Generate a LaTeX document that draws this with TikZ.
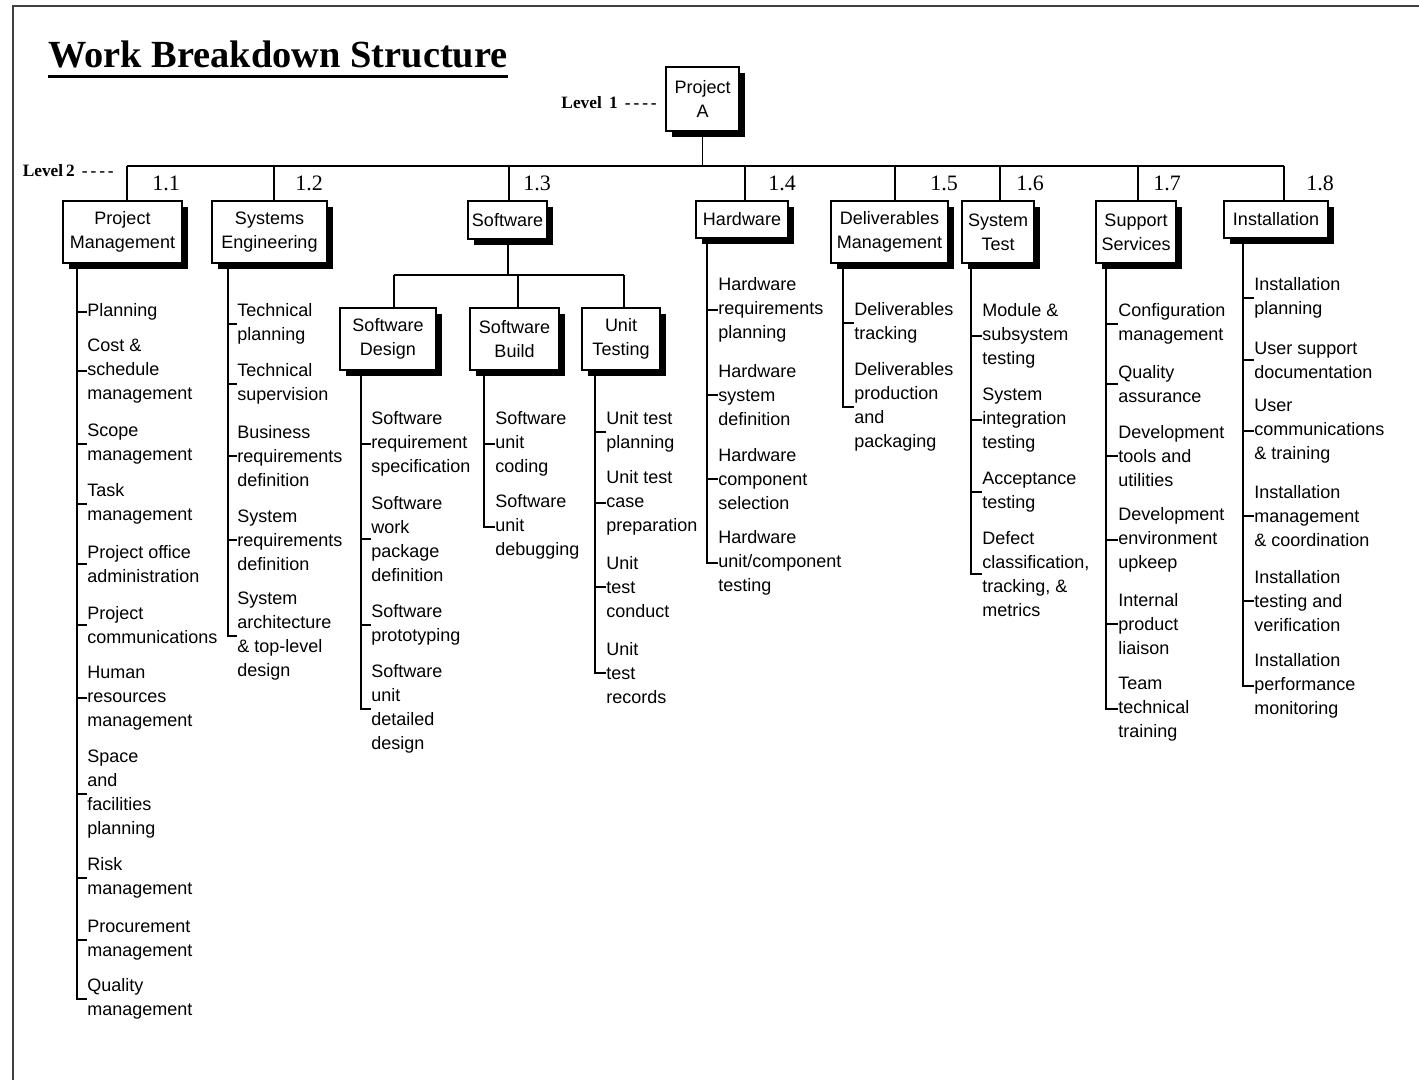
\documentclass[tikz,border=0pt]{standalone}
\usepackage{fontspec}
\setmainfont{Liberation Sans}
\newfontfamily\serifface{Liberation Serif}
\usetikzlibrary{shadows}
\newcommand\leaffont{\fontsize{13.5pt}{18pt}\selectfont}
\newcommand\numfont{\serifface\fontsize{16.5pt}{18pt}\selectfont}
\newcommand\lvlfont{\serifface\bfseries\fontsize{13pt}{15pt}\selectfont}
\begin{document}
\begin{tikzpicture}[x=0.75pt,y=-0.75pt,
  wbox/.style={draw, line width=1.3pt, fill=white, align=center, inner sep=0pt, font=\leaffont,
    drop shadow={shadow xshift=4.8pt, shadow yshift=-4.8pt, fill=black, opacity=1}},
  leaf/.style={anchor=west, inner sep=0pt, align=left, font=\leaffont},
  link/.style={line width=1.3pt},
  num/.style={font=\numfont, inner sep=0pt},
  lvl/.style={font=\lvlfont, inner sep=0pt, anchor=east}]
\useasboundingbox (0,0) rectangle (1419,1079);
\fill[white] (0,0) rectangle (1419,1079);
% frame
\draw[line width=1.6pt, black!75] (13,1085) -- (13,6) -- (1425,6);
% title
\node[inner sep=0pt, anchor=base west, font=\serifface\bfseries\fontsize{28.8pt}{30pt}\selectfont] (title) at (48,67) {Work Breakdown Structure};
\draw[line width=2.3pt] ([yshift=-7pt]title.base west) -- ([yshift=-7pt]title.base east);
% level labels
\node[lvl] (lv1) at (657,103) {Level\, 1 \,-\,-\,-\,-};
\node[lvl] (lv2) at (114,171) {Level\,2 \,-\,-\,-\,-};
% bar coordinates
\coordinate (b1) at (127,166);
\coordinate (b2) at (274,166);
\coordinate (b3) at (509,166);
\coordinate (b4) at (745,166);
\coordinate (b5) at (895,166);
\coordinate (b6) at (1000,166);
\coordinate (b7) at (1138,166);
\coordinate (b8) at (1284,166);
\coordinate (s0) at (508,275);
\coordinate (c1) at (394,275);
\coordinate (c2) at (518,275);
\coordinate (c3) at (624,275);
% list tops
\coordinate (pmv) at (77,263);
\coordinate (sev) at (228,263);
\coordinate (sdv) at (361,370);
\coordinate (sbv) at (484,370);
\coordinate (utv) at (595,370);
\coordinate (hwv) at (707,238);
\coordinate (dmv) at (843,263);
\coordinate (stv) at (971,263);
\coordinate (ssv) at (1106,263);
\coordinate (insv) at (1243,238);

% ---------- leaves ----------
\node[leaf] (pm1) at (87,312) {Planning};
\node[leaf] (pm2) at (87,371) {Cost \&\\schedule\\management};
\node[leaf] (pm3) at (87,444) {Scope\\management};
\node[leaf] (pm4) at (87,504) {Task\\management};
\node[leaf] (pm5) at (87,564) {Project office\\administration};
\node[leaf] (pm6) at (87,625) {Project\\communications};
\node[leaf] (pm7) at (87,698) {Human\\resources\\management};
\node[leaf] (pm8) at (87,794) {Space\\and\\facilities\\planning};
\node[leaf] (pm9) at (87,878) {Risk\\management};
\node[leaf] (pm10) at (87,940) {Procurement\\management};
\node[leaf] (pm11) at (87,999) {Quality\\management};

\node[leaf] (se1) at (237,324) {Technical\\planning};
\node[leaf] (se2) at (237,384) {Technical\\supervision};
\node[leaf] (se3) at (237,456) {Business\\requirements\\definition};
\node[leaf] (se4) at (237,540) {System\\requirements\\definition};
\node[leaf] (se5) at (237,636) {System\\architecture\\\& top-level\\design};

\node[leaf] (sd1) at (371,444) {Software\\requirement\\specification};
\node[leaf] (sd2) at (371,539) {Software\\work\\package\\definition};
\node[leaf] (sd3) at (371,625) {Software\\prototyping};
\node[leaf] (sd4) at (371,709) {Software\\unit\\detailed\\design};

\node[leaf] (sb1) at (495,444) {Software\\unit\\coding};
\node[leaf] (sb2) at (495,527) {Software\\unit\\debugging};

\node[leaf] (ut1) at (606,432) {Unit test\\planning};
\node[leaf] (ut2) at (606,503) {Unit test\\case\\preparation};
\node[leaf] (ut3) at (606,587) {Unit\\test\\conduct};
\node[leaf] (ut4) at (606,673) {Unit\\test\\records};

\node[leaf] (hw1) at (718,310) {Hardware\\requirements\\planning};
\node[leaf] (hw2) at (718,395) {Hardware\\system\\definition};
\node[leaf] (hw3) at (718,479) {Hardware\\component\\selection};
\node[leaf] (hw4) at (718,563) {Hardware\\unit/component\\testing};

\node[leaf] (dm1) at (854,323) {Deliverables\\tracking};
\node[leaf] (dm2) at (854,407) {Deliverables\\production\\and\\packaging};

\node[leaf] (st1) at (982,336) {Module \&\\subsystem\\testing};
\node[leaf] (st2) at (982,420) {System\\integration\\testing};
\node[leaf] (st3) at (982,492) {Acceptance\\testing};
\node[leaf] (st4) at (982,574) {Defect\\classification,\\tracking, \&\\metrics};

\node[leaf] (ss1) at (1118,324) {Configuration\\management};
\node[leaf] (ss2) at (1118,384) {Quality\\assurance};
\node[leaf] (ss3) at (1118,456) {Development\\tools and\\utilities};
\node[leaf] (ss4) at (1118,540) {Development\\environment\\upkeep};
\node[leaf] (ss5) at (1118,624) {Internal\\product\\liaison};
\node[leaf] (ss6) at (1118,709) {Team\\technical\\training};

\node[leaf] (ins1) at (1254,298) {Installation\\planning};
\node[leaf] (ins2) at (1254,360) {User support\\documentation};
\node[leaf] (ins3) at (1254,431) {User\\communications\\\& training};
\node[leaf] (ins4) at (1254,516) {Installation\\management\\\& coordination};
\node[leaf] (ins5) at (1254,601) {Installation\\testing and\\verification};
\node[leaf] (ins6) at (1254,686) {Installation\\performance\\monitoring};

% ---------- leaf connectors ----------
\draw[link] (pmv) |- (pm11.west);
\foreach \i in {1,...,10} \draw[link] (pmv |- pm\i.west) -- (pm\i.west);
\draw[link] (sev) |- (se5.west);
\foreach \i in {1,...,4} \draw[link] (sev |- se\i.west) -- (se\i.west);
\draw[link] (sdv) |- (sd4.west);
\foreach \i in {1,...,3} \draw[link] (sdv |- sd\i.west) -- (sd\i.west);
\draw[link] (sbv) |- (sb2.west);
\draw[link] (sbv |- sb1.west) -- (sb1.west);
\draw[link] (utv) |- (ut4.west);
\foreach \i in {1,...,3} \draw[link] (utv |- ut\i.west) -- (ut\i.west);
\draw[link] (hwv) |- (hw4.west);
\foreach \i in {1,...,3} \draw[link] (hwv |- hw\i.west) -- (hw\i.west);
\draw[link] (dmv) |- (dm2.west);
\draw[link] (dmv |- dm1.west) -- (dm1.west);
\draw[link] (stv) |- (st4.west);
\foreach \i in {1,...,3} \draw[link] (stv |- st\i.west) -- (st\i.west);
\draw[link] (ssv) |- (ss6.west);
\foreach \i in {1,...,5} \draw[link] (ssv |- ss\i.west) -- (ss\i.west);
\draw[link] (insv) |- (ins6.west);
\foreach \i in {1,...,5} \draw[link] (insv |- ins\i.west) -- (ins\i.west);

% ---------- upper connectors ----------
\draw[link] (b1) -- (b8);
\draw[link] (s0) -- (s0 |- 0,230);
\draw[link] (c1) -- (c3);

% ---------- boxes ----------
\node[wbox, minimum width=73*0.75pt, minimum height=64*0.75pt] (pa) at (702.5,99) {Project\\A};
\draw[link] (pa.south) -- (pa.south |- b1);
\node[wbox, minimum width=119*0.75pt, minimum height=62*0.75pt] (pm) at (122.5,232) {Project\\Management};
\node[wbox, minimum width=115*0.75pt, minimum height=62*0.75pt] (se) at (269.5,232) {Systems\\Engineering};
\node[wbox, minimum width=79*0.75pt, minimum height=38*0.75pt] (sw) at (507.5,220) {Software};
\node[wbox, minimum width=92*0.75pt, minimum height=37*0.75pt] (hw) at (742,219.5) {Hardware};
\node[wbox, minimum width=117*0.75pt, minimum height=62*0.75pt] (dm) at (889.5,232) {Deliverables\\Management};
\node[wbox, minimum width=72*0.75pt, minimum height=62*0.75pt] (st) at (998,232) {System\\Test};
\node[wbox, minimum width=80*0.75pt, minimum height=62*0.75pt] (ss) at (1136,232) {Support\\Services};
\node[wbox, minimum width=104*0.75pt, minimum height=37*0.75pt] (ins) at (1276,219.5) {Installation};
\node[wbox, minimum width=96*0.75pt, minimum height=62*0.75pt] (sd) at (388,339) {Software\\Design};
\node[wbox, minimum width=89*0.75pt, minimum height=62*0.75pt] (sb) at (514.5,339) {Software\\Build};
\node[wbox, minimum width=78*0.75pt, minimum height=62*0.75pt] (ut) at (621,339) {Unit\\Testing};

\draw[link] (b1) -- (b1 |- pm.north);
\draw[link] (b2) -- (b2 |- se.north);
\draw[link] (b3) -- (b3 |- sw.north);
\draw[link] (b4) -- (b4 |- hw.north);
\draw[link] (b5) -- (b5 |- dm.north);
\draw[link] (b6) -- (b6 |- st.north);
\draw[link] (b7) -- (b7 |- ss.north);
\draw[link] (b8) -- (b8 |- ins.north);
\draw[link] (c1) -- (c1 |- sd.north);
\draw[link] (c2) -- (c2 |- sb.north);
\draw[link] (c3) -- (c3 |- ut.north);

% ---------- numbers ----------
\node[num] (n1) at (166,183) {1.1};
\node[num] (n2) at (309,183) {1.2};
\node[num] (n3) at (537,183) {1.3};
\node[num] (n4) at (782,183) {1.4};
\node[num] (n5) at (944,183) {1.5};
\node[num] (n6) at (1030,183) {1.6};
\node[num] (n7) at (1167,183) {1.7};
\node[num] (n8) at (1320,183) {1.8};
\end{tikzpicture}
\end{document}
